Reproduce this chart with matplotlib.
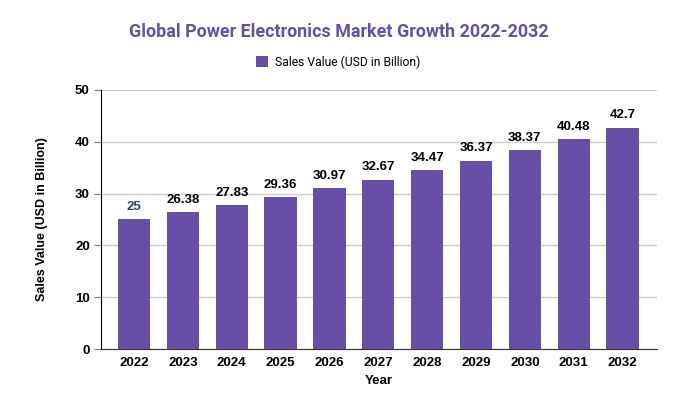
import matplotlib.pyplot as plt
import numpy as np

years = ["2022", "2023", "2024", "2025", "2026", "2027", "2028", "2029", "2030", "2031", "2032"]
sales = [25, 26.38, 27.83, 29.36, 30.97, 32.67, 34.47, 36.37, 38.37, 40.48, 42.7]
yticks = [0, 10, 20, 30, 40, 50]

purple = "#674ea7"

fig = plt.figure(figsize=(6.77, 4.16), dpi=100)
ax = fig.add_axes([0.149, 0.161, 0.821, 0.623])

x = np.arange(len(years))
bars = ax.bar(x, sales, width=0.66, color=purple, zorder=3, label="Sales Value (USD in Billion)")

for i, (xi, v) in enumerate(zip(x, sales)):
    label = f"{v:g}"
    col = "#1f4e5a" if i == 0 else "black"
    ax.text(xi, v + 1.2, label, ha="center", va="bottom", fontsize=9.5,
            fontweight="bold", family="Liberation Sans", color=col)

ax.set_xlim(-0.68, 10.7)
ax.set_ylim(0, 50)
ax.set_yticks(yticks)
ax.set_xticks(x)
ax.set_xticklabels(years)
ax.grid(axis="y", color="#cccccc", linewidth=1, zorder=0)

for lbl in ax.get_xticklabels() + ax.get_yticklabels():
    lbl.set_family("Liberation Sans")
    lbl.set_fontweight("bold")
    lbl.set_fontsize(9.5)

ax.tick_params(axis="x", length=0, pad=6)
ax.tick_params(axis="y", length=5, color="#4a8a96", pad=3)

for side in ["top", "right"]:
    ax.spines[side].set_visible(False)
ax.spines["left"].set_color("black")
ax.spines["bottom"].set_color("#333333")

ax.set_xlabel("Year", family="Liberation Sans", fontweight="bold", fontsize=9.5, labelpad=4)
ax.set_ylabel("Sales Value (USD in Billion)", family="Liberation Sans", fontweight="bold",
              fontsize=9, labelpad=19)

fig.text(0.5, 0.923, "Global Power Electronics Market Growth 2022-2032", ha="center", va="center",
         fontsize=12.9, fontweight="bold", family="Roboto", color=purple)

ax.legend(loc="center", bbox_to_anchor=(0.5, 0.851), bbox_transform=fig.transFigure,
          frameon=False, prop={"family": "Roboto", "size": 8.7}, handlelength=1, handleheight=1,
          handletextpad=0.6)

fig.savefig("out.png", dpi=100)
